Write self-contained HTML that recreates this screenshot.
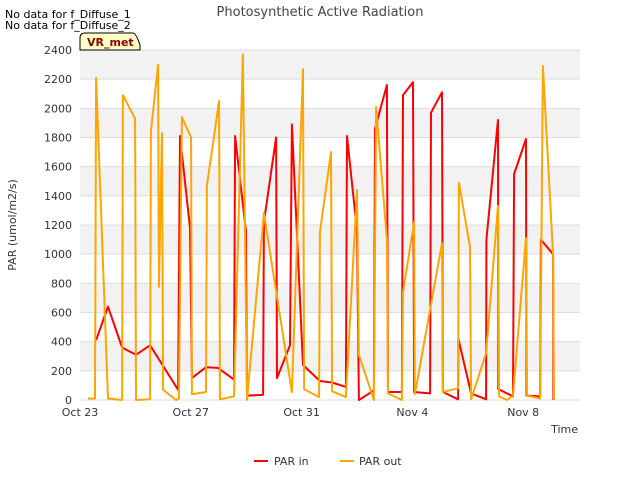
<!DOCTYPE html>
<html><head><meta charset="utf-8"><style>
body{margin:0;background:#fff;font-family:"Liberation Sans","DejaVu Sans",sans-serif}
svg text{font-family:"DejaVu Sans","Liberation Sans",sans-serif}
</style></head><body>
<svg id="c" width="640" height="480" xmlns="http://www.w3.org/2000/svg">
<rect width="640" height="480" fill="#fff"/>
<g id="bands"></g><g id="grid"></g><g id="axes"></g><g id="series"></g>
<text x="320" y="16" text-anchor="middle" font-size="13" fill="#444">Photosynthetic Active Radiation</text>
<text x="5" y="18" font-size="11" fill="#000">No data for f_Diffuse_1</text>
<text x="5" y="29" font-size="11" fill="#000">No data for f_Diffuse_2</text>
<g><path d="M80,50 L80,38 Q80,33 85,33 L133,33 Q136,33 140,45 L140,50 Z" fill="#ffffc8" stroke="#000"/><text x="87" y="46" font-size="11" font-weight="bold" fill="#8b0000">VR_met</text></g>
<text x="16" y="225" font-size="11" fill="#333" text-anchor="middle" transform="rotate(-90 16 225)">PAR (umol/m2/s)</text>
<text x="578" y="433" font-size="11" fill="#333" text-anchor="end">Time</text>
<g>
<g><line x1="254" y1="461" x2="268" y2="461" stroke="#f00" stroke-width="2"/><text x="274" y="465" font-size="11" fill="#333">PAR in</text></g>
<g><line x1="340" y1="461" x2="354" y2="461" stroke="#ffa500" stroke-width="2"/><text x="359" y="465" font-size="11" fill="#333">PAR out</text></g>
</g>
</svg>
<script>
const xTicks=[0,4,8,12,16];
const xTickLabels=["Oct 23","Oct 27","Oct 31","Nov 4","Nov 8"];
const yTicks=[0,200,400,600,800,1000,1200,1400,1600,1800,2000,2200,2400];
const parInT=[0.58,1.01,1.52,2.02,2.53,3.54,3.61,3.97,4.04,4.55,4.98,5.56,5.60,5.99,6.03,6.61,6.64,7.08,7.11,7.58,7.65,8.05,8.66,9.10,9.60,9.64,10.0,10.07,10.61,10.65,11.08,11.12,11.62,11.66,12.02,12.06,12.64,12.67,13.07,13.10,13.65,13.66,14.12,14.66,14.67,15.09,15.10,15.63,15.67,16.10,16.12,16.61,16.64,17.08,17.09];
const parInV=[410,640,360,310,375,70,1810,1180,150,225,220,140,1810,1160,30,35,1220,1800,150,375,1890,240,130,120,90,1810,1160,0,65,1860,2160,55,55,2090,2180,55,45,1970,2110,55,5,420,45,5,1100,1920,75,25,1550,1790,30,25,1100,1000,0];
const parOutT=[0.29,0.54,0.58,1.01,1.52,1.55,1.99,2.02,2.53,2.56,2.82,2.85,2.96,3.0,3.47,3.57,3.68,4.01,4.04,4.55,4.58,5.02,5.05,5.56,5.88,6.03,6.64,7.65,8.05,8.09,8.63,8.66,9.06,9.10,9.60,10.0,10.07,10.61,10.69,11.08,11.12,11.62,11.66,12.06,12.09,13.07,13.10,13.65,13.68,14.08,14.12,14.66,15.09,15.13,15.42,15.63,16.10,16.14,16.61,16.71,17.08,17.11];
const parOutV=[10,10,2210,10,0,2090,1930,0,5,1840,2300,775,1830,70,0,10,1940,1800,40,55,1470,2050,5,25,2370,0,1280,55,2270,75,20,1150,1700,60,20,1440,310,0,2010,1100,45,0,740,1220,40,1075,55,80,1490,1050,5,320,1330,25,0,30,1110,30,10,2290,990,0];
const X0=80,X1=580,Y0=400,Y1=50,XMAX=18.05,YMAX=2400;
const sx=d=>X0+d/XMAX*(X1-X0), sy=v=>Y0-v/YMAX*(Y0-Y1);
const NS="http://www.w3.org/2000/svg";
function mk(t,a,p){const e=document.createElementNS(NS,t);for(const k in a)e.setAttribute(k,a[k]);p.appendChild(e);return e;}
const bands=document.getElementById('bands'),grid=document.getElementById('grid'),axes=document.getElementById('axes'),ser=document.getElementById('series');
for(let i=0;i<yTicks.length-1;i++){if(i%2===1){const r=mk('rect',{x:X0,y:sy(yTicks[i+1]),width:X1-X0,height:sy(yTicks[i])-sy(yTicks[i+1]),fill:'#f2f2f2'},bands);

}}
yTicks.forEach(v=>{const l=mk('line',{x1:X0,x2:X1,y1:sy(v),y2:sy(v),stroke:'#ddd','stroke-width':1},grid);


const t=mk('text',{x:X0-8,y:sy(v)+4,'text-anchor':'end','font-size':11,fill:'#333'},axes);t.textContent=v;

});
xTicks.forEach((d,i)=>{const t=mk('text',{x:sx(d),y:416,'text-anchor':'middle','font-size':11,fill:'#333'},axes);t.textContent=xTickLabels[i];

});
function line(T,V,col,name){const p=T.map((t,i)=>sx(t).toFixed(1)+','+sy(V[i]).toFixed(1)).join(' ');
const e=mk('polyline',{points:p,fill:'none',stroke:col,'stroke-width':2,'stroke-linejoin':'round'},ser);

}
line(parInT,parInV,'#f00','par-in-line');
line(parOutT,parOutV,'#ffa500','par-out-line');
</script>
</body></html>
